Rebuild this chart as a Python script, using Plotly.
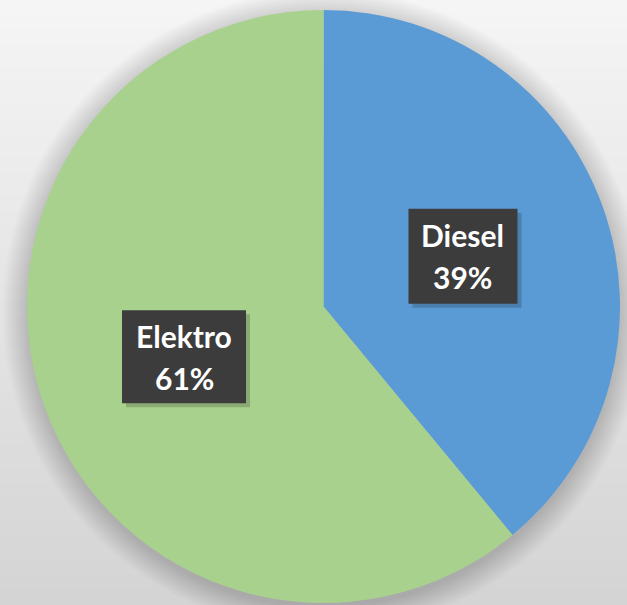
import math
import plotly.graph_objects as go

# ---- data ----
labels = ["Diesel", "Elektro"]
values = [39, 61]
colors = ["#5b9bd5", "#a9d18e"]

# ---- styling ----
W, H = 627, 605
cx, cy, R = 323.5, 306.5, 296.5          # pie geometry (pixels)
box_sizes = {"Diesel": (109, 95), "Elektro": (124, 93)}
FONT = dict(family="Lato", size=30, color="white")
LINE_GAP = 42

fig = go.Figure()
fig.add_trace(go.Pie(
    labels=labels, values=values, sort=False, direction="clockwise",
    rotation=0, textinfo="none", hoverinfo="label+percent",
    marker=dict(colors=colors, line=dict(width=0)),
    domain=dict(x=[(cx - R) / W, (cx + R) / W], y=[1 - (cy + R) / H, 1 - (cy - R) / H]),
    showlegend=False,
))

def px2paper(x, y):
    return x / W, 1 - y / H

shapes = []
# background vertical gradient
n = 80
top = (245, 245, 245)
bot = (212, 212, 212)
for i in range(n):
    t = i / (n - 1)
    c = tuple(round(top[k] + (bot[k] - top[k]) * t) for k in range(3))
    shapes.append(dict(type="rect", xref="paper", yref="paper",
                       x0=0, x1=1, y0=1 - (i + 1) / n - 0.002, y1=1 - i / n + 0.002,
                       fillcolor="rgb(%d,%d,%d)" % c, line=dict(width=0), layer="below"))
# soft shadow around the pie
for j in range(14):
    rr = R + 1 + j * 1.8
    oy = 4
    shapes.append(dict(type="circle", xref="paper", yref="paper",
                       x0=(cx - rr) / W, x1=(cx + rr) / W,
                       y0=1 - (cy + oy + rr) / H, y1=1 - (cy + oy - rr) / H,
                       fillcolor="rgba(0,0,0,0.011)", line=dict(width=0), layer="below"))

annotations = []
total = sum(values)
cum = 0
for lab, v in zip(labels, values):
    mid = (cum + v / 2) / total * 2 * math.pi
    cum += v
    px = cx + 0.5 * R * math.sin(mid)
    py = cy - 0.5 * R * math.cos(mid)
    bw, bh = box_sizes[lab]
    # shadow of the box
    x0, y0 = px2paper(px - bw / 2 + 4, py + bh / 2 + 4)
    x1, y1 = px2paper(px + bw / 2 + 4, py - bh / 2 + 4)
    shapes.append(dict(type="rect", xref="paper", yref="paper", x0=x0, x1=x1, y0=y0, y1=y1,
                       fillcolor="rgba(0,0,0,0.18)", line=dict(width=0), layer="above"))
    # box
    x0, y0 = px2paper(px - bw / 2, py + bh / 2)
    x1, y1 = px2paper(px + bw / 2, py - bh / 2)
    shapes.append(dict(type="rect", xref="paper", yref="paper", x0=x0, x1=x1, y0=y0, y1=y1,
                       fillcolor="#3c3c3c", line=dict(width=0), layer="above"))
    pct = round(v / total * 100)
    for k, line in enumerate([lab, "%d%%" % pct]):
        ax, ay = px2paper(px, py + (k - 0.5) * LINE_GAP)
        annotations.append(dict(x=ax, y=ay, xref="paper", yref="paper",
                                text="<b>%s</b>" % line, showarrow=False,
                                xanchor="center", yanchor="middle", font=FONT))

fig.update_layout(
    width=W, height=H, margin=dict(l=0, r=0, t=0, b=0),
    paper_bgcolor="#e6e6e6", plot_bgcolor="#e6e6e6",
    shapes=shapes, annotations=annotations,
)
fig.write_html("out.html", config={"displayModeBar": False},
               post_script="document.body.style.margin='0';document.body.style.overflow='hidden';")
